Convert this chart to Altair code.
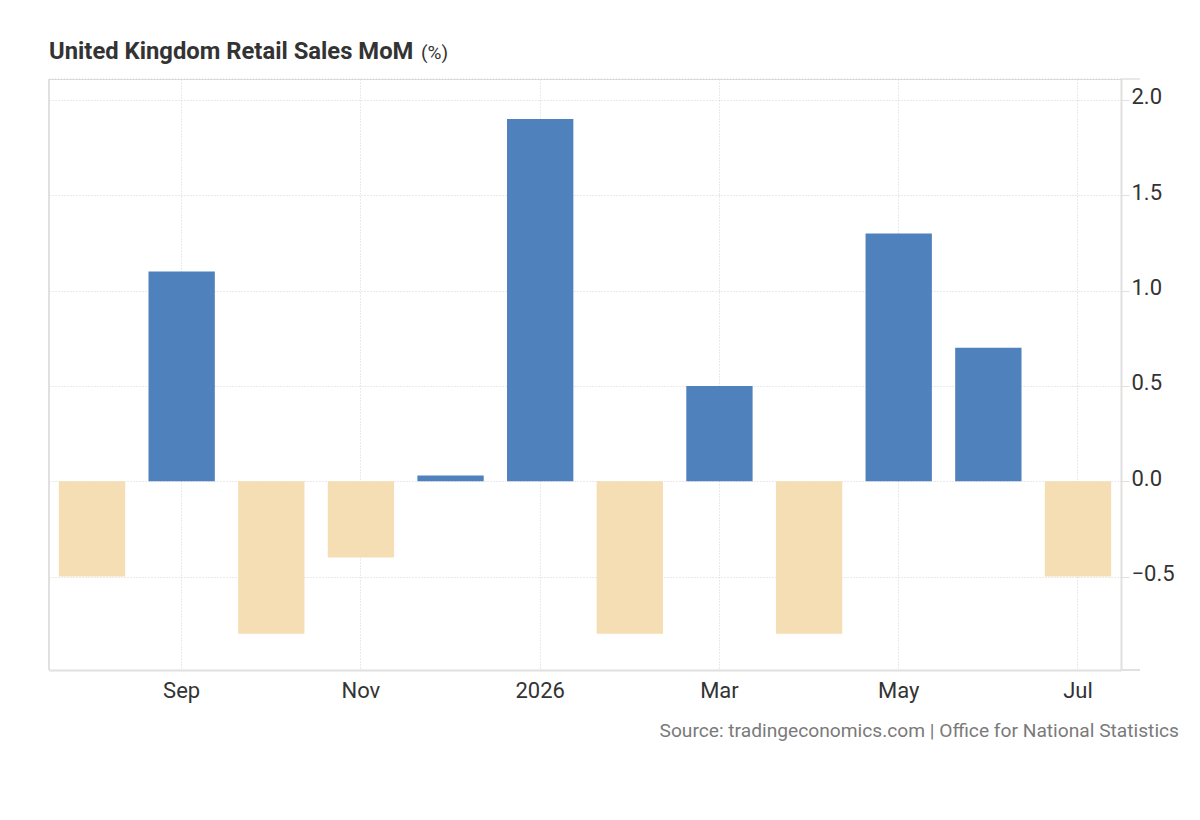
import altair as alt
import pandas as pd

# Monthly figures, Aug 2025 .. Jul 2026
months = ["Aug", "Sep", "Oct", "Nov", "Dec", "2026", "Feb", "Mar", "Apr", "May", "Jun", "Jul"]
values = [-0.5, 1.1, -0.8, -0.4, 0.03, 1.9, -0.8, 0.5, -0.8, 1.3, 0.7, -0.5]
shown_months = ["Sep", "Nov", "2026", "Mar", "May", "Jul"]
y_ticks = [-0.5, 0.0, 0.5, 1.0, 1.5, 2.0]

BLUE = "#4F81BD"
WHEAT = "#F5DEB3"
W, H = 1072, 591
FONT = "Roboto"

df = pd.DataFrame({"month": months, "value": values})
df["sign"] = ["pos" if v >= 0 else "neg" for v in values]

bars = (alt.Chart(df)
        .mark_bar()
        .encode(
            x=alt.X("month:O", sort=months, title=None,
                    scale=alt.Scale(paddingInner=0.26, paddingOuter=0.11),
                    axis=alt.Axis(values=shown_months, bandPosition=0.5, labelAngle=0,
                                  tickSize=0, labelPadding=10, grid=True,
                                  gridColor="#d4d4d4", gridDash=[1, 2], gridWidth=1,
                                  domainColor="#e0e0e0", domainWidth=2,
                                  labelFont=FONT, labelFontSize=22, labelColor="#333333")),
            y=alt.Y("value:Q", title=None,
                    scale=alt.Scale(domain=[-0.99, 2.11], nice=False, zero=False),
                    axis=alt.Axis(orient="right", values=y_ticks, format=".1f",
                                  tickSize=8, tickColor="#e0e0e0", labelPadding=2,
                                  labelOffset=-3, grid=True,
                                  gridColor="#d4d4d4", gridDash=[1, 2], gridWidth=1,
                                  domainColor="#e0e0e0", domainWidth=2,
                                  labelFont=FONT, labelFontSize=22, labelColor="#333333")),
            color=alt.Color("sign:N", legend=None,
                            scale=alt.Scale(domain=["pos", "neg"], range=[BLUE, WHEAT])),
        ))

# frame pieces: solid left edge, dotted top edge
left_edge = alt.Chart().mark_rule(color="#e0e0e0", strokeWidth=2).encode(
    x=alt.value(0), y=alt.value(0), y2=alt.value(H))
top_edge = alt.Chart().mark_rule(color="#d4d4d4", strokeDash=[1, 2]).encode(
    x=alt.value(0), x2=alt.value(W), y=alt.value(0))
top_tick = alt.Chart().mark_rule(color="#e0e0e0", strokeWidth=1.5).encode(
    x=alt.value(W), x2=alt.value(W + 19), y=alt.value(0))
bottom_ext = alt.Chart().mark_rule(color="#e0e0e0", strokeWidth=2).encode(
    x=alt.value(W), x2=alt.value(W + 19), y=alt.value(H))

title = alt.Chart().mark_text(text="United Kingdom Retail Sales MoM", font=FONT,
                              fontSize=23.8, fontWeight="bold", color="#333333",
                              align="left", baseline="alphabetic").encode(
    x=alt.value(0), y=alt.value(-20))
unit = alt.Chart().mark_text(text="(%)", font=FONT, fontSize=19, color="#333333",
                             align="left", baseline="alphabetic").encode(
    x=alt.value(372), y=alt.value(-20))
source = alt.Chart().mark_text(text="Source: tradingeconomics.com | Office for National Statistics",
                               font=FONT, fontSize=19.2, color="#7a7a7a",
                               align="right", baseline="middle").encode(
    x=alt.value(W + 58), y=alt.value(H + 61))

chart = (alt.layer(left_edge, top_edge, bars, top_tick, bottom_ext, title, unit, source)
         .properties(width=W, height=H, autosize="none",
                     padding={"left": 41, "top": 71, "right": 71, "bottom": 130})
         .configure_view(stroke=None)
         .configure(background="white"))

chart.save("out.html", embed_options={"renderer": "svg", "actions": False})
